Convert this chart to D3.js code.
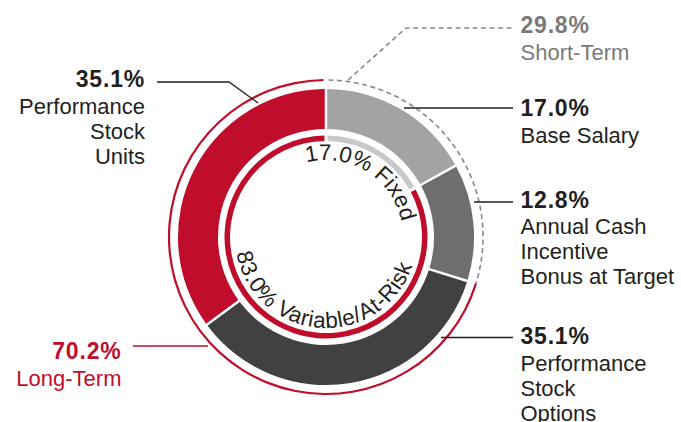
<!DOCTYPE html>
<html>
<head>
<meta charset="utf-8">
<script src="https://cdn.jsdelivr.net/npm/d3@7"></script>
<style>
  html, body { margin: 0; padding: 0; background: #fff; }
  svg { display: block; font-family: "Liberation Sans", Arial, Helvetica, sans-serif; }
</style>
</head>
<body>
<svg id="chart" width="681" height="422"></svg>
<script>
// Pay components (main ring), clockwise from 12 o'clock
const components = ["Base Salary", "Annual Cash Incentive Bonus at Target", "Performance Stock Options", "Performance Stock Units"];
const componentValues = [17.0, 12.8, 35.1, 35.1];
const componentColors = ["#a3a3a3", "#6e6e6e", "#414143", "#c00d2b"];

// Fixed vs variable split (inner thin ring)
const payMix = ["Fixed", "Variable/At-Risk"];
const payMixValues = [17.0, 83.0];
const payMixColors = ["#c8c8c8", "#c00d2b"];

// Short-term vs long-term split (outer thin ring)
const horizons = ["Short-Term", "Long-Term"];
const horizonValues = [29.8, 70.2];

const RED = "#c00d2b", INK = "#231f20", GREY = "#7a7a7a";
const fmt = v => d3.format(".1f")(v) + "%";

const svg = d3.select("#chart");
const cx = 326, cy = 237;
const g = svg.append("g").attr("transform", `translate(${cx},${cy})`);

const pie = d3.pie().sort(null).value(d => d);

// main ring
const mainArc = d3.arc().innerRadius(108).outerRadius(148).padRadius(100).padAngle(0.025);
g.selectAll("path.main")
  .data(pie(componentValues))
  .join("path")
  .attr("class", "main")
  .attr("d", mainArc)
  .attr("fill", (d, i) => componentColors[i]);

// inner thin ring
const mixArc = d3.arc().innerRadius(96).outerRadius(101.5).padRadius(100).padAngle(0.03);
const mixPie = pie(payMixValues);
g.selectAll("path.mix")
  .data(mixPie)
  .join("path")
  .attr("class", "mix")
  .attr("d", mixArc)
  .attr("fill", (d, i) => payMixColors[i]);

// outer thin ring: dashed for short-term, solid red for long-term
const horizonPie = pie(horizonValues);
const ringR = 157;
const toRad = a => a - Math.PI / 2;
const gapA = 2.5 / ringR;
const st = horizonPie[0];
const dashPath = d3.path();
dashPath.arc(0, 0, ringR, toRad(st.startAngle + gapA), toRad(st.endAngle));
g.append("path")
  .attr("d", dashPath.toString())
  .attr("fill", "none")
  .attr("stroke", "#888")
  .attr("stroke-width", 1.6)
  .attr("stroke-dasharray", "5,3.5");

const lt = horizonPie[1];
const ltArc = d3.arc().innerRadius(ringR - 1.1).outerRadius(ringR + 1.1);
g.append("path")
  .attr("d", ltArc({ startAngle: lt.startAngle, endAngle: lt.endAngle - gapA }))
  .attr("fill", RED);

// curved captions inside the rings
const defs = svg.append("defs");
function arcPathFor(id, r, midDeg, spanDeg, clockwise) {
  const m = midDeg * Math.PI / 180, s = spanDeg * Math.PI / 180;
  const p = d3.path();
  if (clockwise) p.arc(0, 0, r, toRad(m - s), toRad(m + s), false);
  else p.arc(0, 0, r, toRad(m + s), toRad(m - s), true);
  defs.append("path").attr("id", id).attr("d", p.toString());
}
arcPathFor("fixedPath", 77, 32, 120, true);
arcPathFor("varPath", 91, 184, 150, false);

const curved = [
  { id: "fixedPath", text: fmt(payMixValues[0]) + " " + payMix[0], spacing: 0 },
  { id: "varPath", text: fmt(payMixValues[1]) + " " + payMix[1], spacing: 0.5 }
];
curved.forEach(c => {
  g.append("text")
    .attr("font-size", 22.5)
    .attr("fill", INK)
    .attr("letter-spacing", c.spacing)
    .append("textPath")
    .attr("href", "#" + c.id)
    .attr("startOffset", "50%")
    .attr("text-anchor", "middle")
    .text(c.text);
});

// callouts
const callouts = [
  { value: horizonValues[0], lines: ["Short-Term"], x: 520.5, y: 33, anchor: "start", color: GREY,
    leader: [[348, 80], [406, 28], [513, 28]], dashed: true, lineColor: "#888" },
  { value: componentValues[0], lines: ["Base Salary"], x: 520.5, y: 116, anchor: "start", color: INK,
    leader: [[404, 108], [513, 108]] },
  { value: componentValues[1], lines: ["Annual Cash", "Incentive", "Bonus at Target"], x: 520.5, y: 207.5, anchor: "start", color: INK,
    leader: [[474, 202], [513, 202]] },
  { value: componentValues[2], lines: ["Performance", "Stock", "Options"], x: 520.5, y: 344, anchor: "start", color: INK,
    leader: [[441, 337.5], [513, 337.5]] },
  { value: componentValues[3], lines: ["Performance", "Stock", "Units"], x: 145, y: 87, anchor: "end", color: INK,
    leader: [[157, 82], [229, 82], [258, 103]] },
  { value: horizonValues[1], lines: ["Long-Term"], x: 121.5, y: 359, anchor: "end", color: RED,
    leader: [[133, 346], [208, 346]], lineColor: RED }
];

const line = d3.line();
callouts.forEach(c => {
  svg.append("path")
    .attr("d", line(c.leader))
    .attr("fill", "none")
    .attr("stroke", c.lineColor || INK)
    .attr("stroke-width", c.dashed ? 1.6 : 1.3)
    .attr("stroke-dasharray", c.dashed ? "5,3.5" : null);

  const t = svg.append("text")
    .attr("text-anchor", c.anchor)
    .attr("fill", c.color);
  t.append("tspan")
    .attr("x", c.x).attr("y", c.y)
    .attr("font-size", 23).attr("font-weight", "bold")
    .attr("letter-spacing", 0.8)
    .text(fmt(c.value));
  c.lines.forEach((ln, i) => {
    t.append("tspan")
      .attr("x", c.x).attr("y", c.y + 26.5 + i * 25)
      .attr("font-size", 22)
      .text(ln);
  });
});
</script>
</body>
</html>
